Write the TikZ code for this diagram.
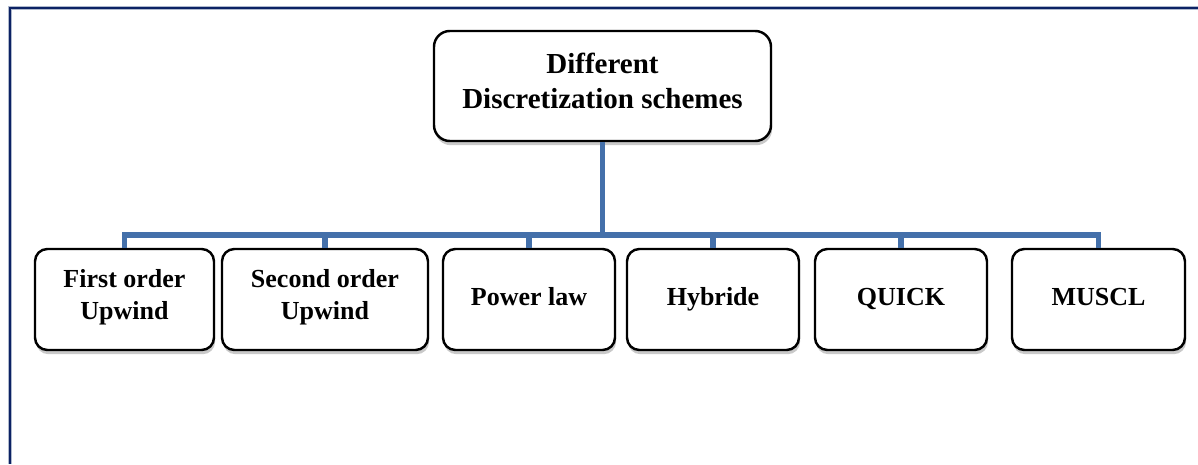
\documentclass[tikz,border=0pt]{standalone}
\usepackage{fontspec}
\setmainfont{Liberation Serif}
\usepackage{tikz}
\usetikzlibrary{positioning,calc}
\usetikzlibrary{shadows}
\definecolor{FrameNavy}{RGB}{12,34,100}
\definecolor{FrameHalo}{RGB}{175,185,205}
\definecolor{LinkBlue}{RGB}{68,112,170}
\tikzset{
	scheme/.style={draw=black,fill=white,line width=1.4pt,rounded corners=7pt,
		align=center,inner sep=0pt,minimum height=101*0.02cm,
		font=\fontsize{14.8}{18.2}\selectfont\bfseries,
		drop shadow={shadow xshift=0.6pt,shadow yshift=-2.4pt,opacity=0.3,fill=black!70}},
	rootbox/.style={scheme,rounded corners=9pt,minimum width=337*0.02cm,minimum height=110*0.02cm,
		font=\fontsize{16.5}{19.9}\selectfont\bfseries},
	link/.style={draw=LinkBlue,line width=3.1pt},
}

\begin{document}
\begin{tikzpicture}[x=0.02cm,y=0.02cm]
	\useasboundingbox (0,0) rectangle (1198,464);
	% frame: top and left edges only
	\draw[FrameHalo,line width=2.8pt] (10,0) -- (10,456) -- (1198,456);
	\draw[FrameNavy,line width=1.7pt] (10,0) -- (10,456) -- (1198,456);
	\coordinate (bar) at (0,229);
	\node[rootbox] (root) at (602.5,378) {Different\\Discretization schemes\rule[-0.22cm]{0pt}{0pt}};
	\foreach \n/\x/\w/\t in {fou/124.5/179/{First order\\Upwind},
		sou/325/206/{Second order\\Upwind},
		pow/529/172/{Power law},
		hyb/713/172/{Hybride},
		quick/901/172/{QUICK},
		muscl/1098.5/173/{MUSCL}}
	\node[scheme,minimum width=\w*0.02cm] (\n) at (\x,164.5) {\t\strut};
	\foreach \n in {fou,sou,pow,hyb,quick,muscl}
	\draw[link] (root.south) -- (root.south |- bar) -| (\n.north);
\end{tikzpicture}
\end{document}
